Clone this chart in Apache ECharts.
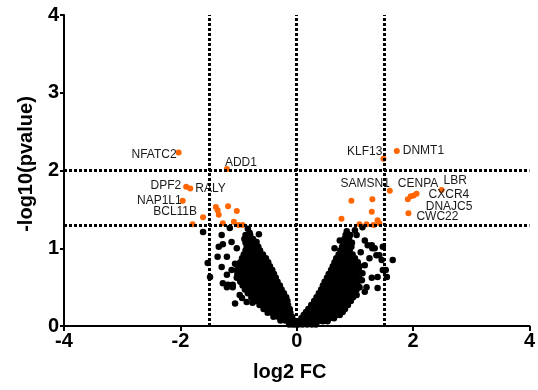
<!DOCTYPE html>
<html>
<head>
<meta charset="utf-8">
<script src="https://cdn.jsdelivr.net/npm/echarts@6/dist/echarts.min.js"></script>
<style>html,body{margin:0;padding:0;background:#fff;}#c{width:538px;height:390px;}</style>
</head>
<body>
<div id="c"></div>
<script>
// ---- data ----
const xTicks = [-4, -2, 0, 2, 4];
const yTicks = [0, 1, 2, 3, 4];
const vLines = [-1.5, 0, 1.5];      // log2 FC thresholds
const hLines = [2, 1.301];          // -log10(p) thresholds

// significant genes (orange)
const sigNames = ['NFATC2','ADD1','DPF2','RALY','NAP1L1','BCL11B','','','','','','','','','','',
                  'KLF13','DNMT1','SAMSN1','CENPA','DNAJC5','','CXCR4','LBR','CWC22','','','','','','','','',''];
const sigX = [-2.03,-1.20,-1.90,-1.83,-1.96,-1.61,-1.79,-1.39,-1.36,-1.34,-1.18,-1.03,-1.27,-1.08,-1.00,-0.93,
              1.49,1.72,1.60,1.91,1.96,2.01,2.06,2.49,1.92,0.94,1.30,1.29,0.77,1.39,1.20,1.42,1.32,1.08];
const sigY = [2.23,2.02,1.79,1.77,1.61,1.40,1.31,1.53,1.49,1.43,1.54,1.48,1.32,1.34,1.30,1.30,
              2.15,2.25,1.74,1.63,1.67,1.68,1.70,1.75,1.45,1.61,1.63,1.47,1.38,1.36,1.31,1.32,1.30,1.31];

// non-significant genes (black)
const nonSigLeft = [
 [-0.13,0.02],[-0.07,0.02],[-0.02,0.02],
 [-0.28,0.07],[-0.20,0.07],[-0.12,0.07],[-0.05,0.07],
 [-0.40,0.12],[-0.32,0.12],[-0.24,0.12],[-0.16,0.12],[-0.08,0.12],
 [-0.50,0.17],[-0.42,0.17],[-0.34,0.17],[-0.26,0.17],[-0.18,0.17],[-0.11,0.17],
 [-0.57,0.22],[-0.49,0.22],[-0.41,0.22],[-0.33,0.22],[-0.25,0.22],[-0.17,0.22],[-0.12,0.22],
 [-0.64,0.27],[-0.56,0.27],[-0.48,0.27],[-0.40,0.27],[-0.32,0.27],[-0.24,0.27],[-0.15,0.27],
 [-0.71,0.32],[-0.63,0.32],[-0.55,0.32],[-0.47,0.32],[-0.39,0.32],[-0.31,0.32],[-0.23,0.32],[-0.16,0.32],
 [-0.78,0.37],[-0.70,0.37],[-0.62,0.37],[-0.54,0.37],[-0.46,0.37],[-0.38,0.37],[-0.30,0.37],[-0.22,0.37],[-0.18,0.37],
 [-0.84,0.42],[-0.76,0.42],[-0.68,0.42],[-0.60,0.42],[-0.52,0.42],[-0.44,0.42],[-0.36,0.42],[-0.28,0.42],[-0.22,0.42],
 [-0.89,0.47],[-0.81,0.47],[-0.73,0.47],[-0.65,0.47],[-0.57,0.47],[-0.49,0.47],[-0.41,0.47],[-0.33,0.47],[-0.26,0.47],
 [-0.93,0.52],[-0.85,0.52],[-0.77,0.52],[-0.69,0.52],[-0.61,0.52],[-0.53,0.52],[-0.45,0.52],[-0.37,0.52],[-0.29,0.52],
 [-0.97,0.57],[-0.89,0.57],[-0.81,0.57],[-0.73,0.57],[-0.65,0.57],[-0.57,0.57],[-0.49,0.57],[-0.41,0.57],[-0.33,0.57],
 [-1.00,0.62],[-0.92,0.62],[-0.84,0.62],[-0.76,0.62],[-0.68,0.62],[-0.60,0.62],[-0.52,0.62],[-0.44,0.62],[-0.36,0.62],
 [-1.02,0.67],[-0.94,0.67],[-0.86,0.67],[-0.78,0.67],[-0.70,0.67],[-0.62,0.67],[-0.54,0.67],[-0.46,0.67],[-0.39,0.67],
 [-1.03,0.72],[-0.95,0.72],[-0.87,0.72],[-0.79,0.72],[-0.71,0.72],[-0.63,0.72],[-0.55,0.72],[-0.47,0.72],[-0.42,0.72],
 [-1.00,0.77],[-0.92,0.77],[-0.84,0.77],[-0.76,0.77],[-0.68,0.77],[-0.60,0.77],[-0.52,0.77],[-0.46,0.77],
 [-0.97,0.82],[-0.89,0.82],[-0.81,0.82],[-0.73,0.82],[-0.65,0.82],[-0.57,0.82],[-0.49,0.82],
 [-0.94,0.87],[-0.86,0.87],[-0.78,0.87],[-0.70,0.87],[-0.62,0.87],[-0.53,0.87],
 [-0.91,0.92],[-0.83,0.92],[-0.75,0.92],[-0.67,0.92],[-0.58,0.92],
 [-0.88,0.97],[-0.80,0.97],[-0.72,0.97],[-0.63,0.97],
 [-0.86,1.02],[-0.78,1.02],[-0.70,1.02],[-0.66,1.02],
 [-0.88,1.07],[-0.80,1.07],[-0.72,1.07],
 [-0.90,1.12],[-0.82,1.12],[-0.75,1.12],
 [-0.88,1.17],[-0.80,1.17],
 [-1.61,1.21],[-1.29,1.17],[-1.15,1.26],[-0.84,1.25],[-0.81,1.20],[-1.34,1.02],[-1.27,1.05],[-1.36,0.89],
 [-1.53,0.81],[-1.29,0.76],[-1.49,0.63],[-1.27,0.55],[-1.20,0.50],[-1.10,0.50],[-0.94,0.36],[-0.76,0.30],
 [-1.20,0.89],[-1.03,1.00],[-1.12,1.08],[-0.77,1.10],[-0.69,1.08],[-1.20,0.66],[-1.10,0.53],[-1.18,0.53],
 [-0.98,0.40],[-0.86,0.31],[-1.03,0.62],[-1.06,0.29],[-1.06,0.80],[-1.12,0.72],[-0.65,1.18]
];
const nonSigRight = [
 [0.03,0.02],[0.10,0.02],[0.18,0.02],[0.26,0.02],[0.33,0.02],
 [0.06,0.06],[0.13,0.06],[0.21,0.06],[0.29,0.06],[0.37,0.06],[0.45,0.06],[0.53,0.06],
 [0.08,0.10],[0.16,0.10],[0.24,0.10],[0.32,0.10],[0.40,0.10],[0.48,0.10],[0.56,0.10],[0.64,0.10],
 [0.12,0.14],[0.20,0.14],[0.28,0.14],[0.36,0.14],[0.44,0.14],[0.52,0.14],[0.60,0.14],[0.68,0.14],[0.74,0.14],
 [0.16,0.18],[0.24,0.18],[0.32,0.18],[0.40,0.18],[0.48,0.18],[0.56,0.18],[0.64,0.18],[0.72,0.18],[0.79,0.18],
 [0.20,0.22],[0.28,0.22],[0.36,0.22],[0.44,0.22],[0.52,0.22],[0.60,0.22],[0.68,0.22],[0.76,0.22],[0.83,0.22],
 [0.25,0.27],[0.33,0.27],[0.41,0.27],[0.49,0.27],[0.57,0.27],[0.65,0.27],[0.73,0.27],[0.81,0.27],[0.88,0.27],
 [0.30,0.32],[0.38,0.32],[0.46,0.32],[0.54,0.32],[0.62,0.32],[0.70,0.32],[0.78,0.32],[0.86,0.32],[0.93,0.32],
 [0.34,0.37],[0.42,0.37],[0.50,0.37],[0.58,0.37],[0.66,0.37],[0.74,0.37],[0.82,0.37],[0.90,0.37],[0.97,0.37],
 [0.38,0.42],[0.46,0.42],[0.54,0.42],[0.62,0.42],[0.70,0.42],[0.78,0.42],[0.86,0.42],[0.94,0.42],[1.00,0.42],
 [0.42,0.47],[0.50,0.47],[0.58,0.47],[0.66,0.47],[0.74,0.47],[0.82,0.47],[0.90,0.47],[0.98,0.47],[1.03,0.47],
 [0.45,0.52],[0.53,0.52],[0.61,0.52],[0.69,0.52],[0.77,0.52],[0.85,0.52],[0.93,0.52],[1.01,0.52],[1.05,0.52],
 [0.48,0.57],[0.56,0.57],[0.64,0.57],[0.72,0.57],[0.80,0.57],[0.88,0.57],[0.96,0.57],[1.04,0.57],
 [0.52,0.62],[0.60,0.62],[0.68,0.62],[0.76,0.62],[0.84,0.62],[0.92,0.62],[1.00,0.62],[1.07,0.62],
 [0.55,0.67],[0.63,0.67],[0.71,0.67],[0.79,0.67],[0.87,0.67],[0.95,0.67],[1.03,0.67],
 [0.59,0.72],[0.67,0.72],[0.75,0.72],[0.83,0.72],[0.91,0.72],[0.99,0.72],[1.07,0.72],
 [0.62,0.77],[0.70,0.77],[0.78,0.77],[0.86,0.77],[0.94,0.77],[1.02,0.77],[1.08,0.77],
 [0.65,0.82],[0.73,0.82],[0.81,0.82],[0.89,0.82],[0.97,0.82],[1.05,0.82],
 [0.68,0.87],[0.76,0.87],[0.84,0.87],[0.92,0.87],[1.00,0.87],
 [0.72,0.92],[0.80,0.92],[0.88,0.92],[0.96,0.92],
 [0.75,0.97],[0.83,0.97],[0.91,0.97],
 [0.78,1.02],[0.86,1.02],[0.94,1.02],
 [0.80,1.07],[0.88,1.07],[0.95,1.07],
 [0.82,1.12],[0.90,1.12],
 [0.84,1.17],[0.92,1.17],
 [0.86,1.22],
 [0.65,1.00],[0.82,1.04],[1.03,1.17],[1.00,1.23],[1.13,1.27],[1.29,1.04],[1.34,1.00],[1.48,1.02],
 [1.42,0.91],[1.65,0.85],[1.48,0.72],[1.55,0.63],[1.17,0.78],[1.13,0.68],[1.20,0.50],[1.03,0.40],
 [1.17,0.44],[1.12,0.59],[1.29,0.62],[1.39,0.49],[1.53,0.72],[1.39,0.63],[1.08,0.50],[0.74,1.10],
 [1.10,0.95],[1.17,1.10],[1.22,1.04],[1.30,1.00],[1.37,0.91],[1.46,0.85],[1.25,0.87]
];

// ---- label placement (styling only): [side, dx, dy] ----
const labelPlacement = {
  NFATC2:['left',1,2.5], ADD1:['right',-5,-6.5], DPF2:['left',-2,-1], RALY:['right',2,0],
  NAP1L1:['left',2,0], BCL11B:['left',-3,-5], KLF13:['left',2,-7.5], DNMT1:['right',3,0],
  SAMSN1:['left',3,-7.5], CENPA:['right',-13,-16], DNAJC5:['right',12,11], CXCR4:['right',9,1],
  LBR:['right',-1,-9], CWC22:['right',5,3]
};

const FONT = '"Liberation Sans", Arial, Helvetica, sans-serif';
const ORANGE = '#FF6600';

const sigData = sigNames.map((n, i) => {
  const item = { name: n, value: [sigX[i], sigY[i]] };
  if (n && labelPlacement[n]) {
    const p = labelPlacement[n];
    item.label = { show: true, formatter: n, position: p[0], distance: 0,
      fontSize: 12, fontFamily: FONT, color: '#1a1a1a' };
  }
  return item;
});

const dotted = { color: '#000', width: 3, type: [3, 2], opacity: 1 };

const chart = echarts.init(document.getElementById('c'), null, { renderer: 'canvas' });
chart.setOption({
  animation: false,
  backgroundColor: '#fff',
  grid: { left: 64, right: 8, top: 15, bottom: 64, containLabel: false },
  xAxis: {
    type: 'value', min: xTicks[0], max: xTicks[xTicks.length - 1], interval: 2,
    name: 'log2 FC', nameLocation: 'middle', nameGap: 36,
    nameTextStyle: { fontSize: 20, fontWeight: 'bold', fontFamily: FONT, color: '#000', padding: [0, 14, 0, 0] },
    axisLine: { onZero: false, lineStyle: { color: '#000', width: 2 } },
    axisTick: { show: true, length: 5, lineStyle: { color: '#000', width: 2 } },
    axisLabel: { fontSize: 20, fontWeight: 'bold', fontFamily: FONT, color: '#000', margin: 5 },
    splitLine: { show: false }
  },
  yAxis: {
    type: 'value', min: yTicks[0], max: yTicks[yTicks.length - 1], interval: 1,
    name: '-log10(pvalue)', nameLocation: 'middle', nameGap: 25,
    nameTextStyle: { fontSize: 20, fontWeight: 'bold', fontFamily: FONT, color: '#000', padding: [0, 0, 0, 13] },
    axisLine: { onZero: false, lineStyle: { color: '#000', width: 2 } },
    axisTick: { show: true, length: 4, lineStyle: { color: '#000', width: 2 } },
    axisLabel: { fontSize: 20, fontWeight: 'bold', fontFamily: FONT, color: '#000', margin: 5 },
    splitLine: { show: false }
  },
  series: [
    {
      type: 'scatter', data: [], z: 1, silent: true,
      markLine: {
        silent: true, symbol: ['none', 'none'], label: { show: false },
        lineStyle: dotted, emphasis: { disabled: true }, animation: false,
        data: vLines.map(v => ({ xAxis: v, lineStyle: dotted })).concat(hLines.map(v => ({ yAxis: v, lineStyle: dotted })))
      }
    },
    {
      type: 'scatter', z: 2, symbolSize: 6.5,
      itemStyle: { color: '#000', opacity: 1 },
      data: nonSigLeft.concat(nonSigRight)
    },
    {
      type: 'scatter', z: 3, symbolSize: 6,
      itemStyle: { color: ORANGE, opacity: 1 },
      labelLayout: function (params) {
        const n = sigNames[params.dataIndex];
        const p = labelPlacement[n];
        if (!p) return {};
        return { dx: p[1], dy: p[2] };
      },
      data: sigData
    }
  ]
});
</script>
</body>
</html>
